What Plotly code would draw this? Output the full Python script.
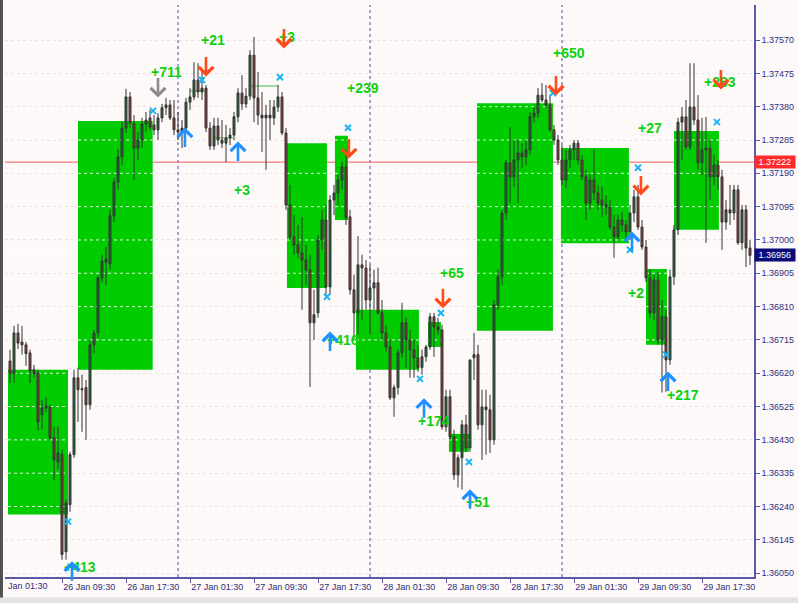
import plotly.graph_objects as go
import pandas as pd
import numpy as np

# ---------------- data (prices in points, 1 point = 0.00001) ----------------
open_pts = [136655,136619,136735,136709,136701,136678,136630,136621,136502,136521,136524,136436,136367,136388,136111,136245,136388,136607,136576,136579,
136530,136701,136735,136892,136946,136932,137069,137165,137237,137319,137408,137333,137262,137285,137331,137348,137328,137314,137348,137377,
137385,137348,137314,137308,137319,137393,137408,137456,137422,137433,137319,137268,137325,137285,137276,137291,137299,137351,137419,137388,
137410,137527,137405,137356,137348,137356,137348,137379,137408,137305,137100,137009,136986,136963,136943,136915,136764,136792,137000,137057,
136866,137114,137134,137171,137208,137066,136858,136792,136929,136920,136829,136863,136878,136792,136735,136695,136550,136579,136678,136764,
136715,136687,136664,136636,136667,136695,136781,136752,136744,136467,136553,136439,136330,136379,136473,136407,136664,136673,136473,136524,
136516,136430,136815,136895,137077,137220,137180,137228,137248,137237,137257,137351,137362,137413,137399,137385,137314,137285,137228,137171,
137228,137257,137276,137228,137180,137105,137171,137134,137114,137100,137094,137037,137009,137057,137043,137023,137077,137123,137037,136980,
136892,136792,136886,136715,136781,136658,136895,137029,137336,137351,137265,137379,137342,137220,137257,137262,137180,137214,137180,137051,
137086,137077,137143,136992,137086,136977]
high_pts = [136687,136755,136761,136755,136709,136687,136644,136630,136544,136550,136530,136467,136467,136402,136259,136396,136630,136636,136616,136601,
136715,136744,136897,136958,136980,137086,137177,137257,137337,137431,137422,137356,137308,137348,137365,137371,137356,137362,137388,137405,
137399,137399,137365,137342,137405,137433,137507,137504,137479,137442,137336,137348,137348,137342,137328,137319,137365,137433,137470,137433,
137541,137579,137479,137422,137385,137399,137399,137442,137422,137319,137157,137071,137043,137065,136986,136958,136858,137014,137086,137100,
137128,137157,137185,137222,137257,137086,136901,137011,136958,136943,136929,136915,136921,136829,136758,136715,136587,136687,136821,136778,
136744,136715,136701,136687,136701,136792,136792,136778,136758,136573,136573,136459,136388,136487,136501,136658,136735,136701,136573,136573,
136559,136829,136915,137086,137228,137322,137285,137285,137276,137285,137365,137379,137433,137447,137442,137413,137328,137299,137271,137257,
137271,137285,137285,137242,137200,137185,137257,137157,137151,137128,137114,137071,137071,137080,137057,137100,137143,137157,137057,137000,
136915,136901,136909,136829,136801,136915,137043,137348,137379,137399,137504,137504,137413,137348,137351,137285,137242,137228,137200,137114,
137157,137157,137157,137100,137100,137000]
low_pts = [136592,136592,136689,136673,136641,136592,136607,136456,136459,136510,136430,136316,136345,136088,136088,136225,136379,136481,136453,136430,
136516,136676,136721,136880,136872,136915,137051,137143,137214,137305,137319,137171,137228,137262,137308,137314,137299,137285,137336,137356,
137342,137299,137285,137262,137308,137371,137399,137405,137399,137308,137257,137257,137271,137262,137222,137271,137285,137336,137371,137377,
137399,137336,137328,137251,137200,137285,137328,137365,137299,137086,137000,136958,136949,136801,136872,136581,136715,136778,136972,136844,
136844,137071,137100,137143,137043,136844,136715,136730,136772,136801,136730,136801,136787,136715,136681,136544,136496,136559,136664,136636,
136607,136607,136624,136616,136653,136687,136667,136730,136459,136453,136430,136316,136294,136288,136396,136396,136601,136459,136373,136388,
136393,136416,136801,136872,137057,137105,137151,137105,137205,137214,137243,137336,137348,137393,137377,137308,137271,137214,137157,137148,
137205,137228,137214,137171,137057,137086,137114,137086,137065,137071,137029,136949,137003,137023,137000,137000,137051,137029,136972,136880,
136778,136772,136701,136565,136567,136644,136872,137014,137228,137257,137257,137328,137200,137185,136992,137114,137157,137143,136972,137029,
137043,137057,136986,136972,136923,136929]
close_pts = [136619,136735,136706,136701,136676,136627,136619,136481,136521,136527,136436,136373,136393,136103,136250,136388,136607,136573,136573,136530,
136701,136735,136892,136940,136937,137069,137165,137237,137319,137408,137333,137262,137285,137331,137342,137322,137314,137348,137377,137385,
137348,137314,137308,137319,137393,137408,137456,137422,137433,137319,137268,137325,137285,137276,137291,137299,137351,137419,137388,137410,
137527,137405,137356,137348,137356,137348,137379,137408,137305,137100,137009,136986,136963,136943,136915,136764,136787,137000,137057,136866,
137114,137134,137171,137208,137065,136858,136792,136929,136920,136829,136863,136878,136792,136735,136695,136550,136579,136678,136764,136715,
136687,136664,136636,136667,136695,136781,136752,136744,136467,136553,136439,136330,136379,136473,136407,136658,136673,136473,136524,136516,
136430,136815,136895,137077,137220,137180,137228,137248,137237,137257,137351,137362,137413,137399,137385,137314,137285,137228,137171,137228,
137257,137276,137228,137180,137105,137171,137134,137105,137100,137094,137037,137009,137057,137043,137023,137077,137123,137037,136980,136892,
136792,136886,136715,136781,136658,136895,137029,137336,137351,137265,137379,137342,137220,137257,137262,137180,137214,137180,137051,137086,
137077,137143,136992,137086,136977,136956]

first_bar = "2015-01-26 03:00"
bar_freq = "30min"

# zones (start, end, low, high)
zone_start = ["2015-01-26 02:45","2015-01-26 11:30","2015-01-27 13:37","2015-01-27 19:37","2015-01-27 22:15","2015-01-28 07:15",
              "2015-01-28 09:52","2015-01-28 13:22","2015-01-28 23:52","2015-01-29 10:30","2015-01-29 14:00"]
zone_end = ["2015-01-26 10:15","2015-01-26 20:50","2015-01-27 18:37","2015-01-27 21:15","2015-01-28 06:07","2015-01-28 08:52",
            "2015-01-28 12:22","2015-01-28 22:52","2015-01-29 08:22","2015-01-29 13:07","2015-01-29 19:37"]
zone_low = [1.36217,1.36630,1.36863,1.37057,1.36630,1.36695,1.36396,1.36741,1.36991,1.36701,1.37029]
zone_high = [1.36630,1.37339,1.37276,1.37297,1.36801,1.36766,1.36447,1.37390,1.37262,1.36917,1.37311]

# profit labels
lbl_text = ["+711","+21","+3","+3","+239","+416","+65","+174","+51","+650","+27","+283","+2","+217","+413"]
lbl_time = ["2015-01-26 22:30","2015-01-27 04:22","2015-01-27 08:00","2015-01-27 13:37","2015-01-27 23:07","2015-01-27 20:37",
            "2015-01-28 10:15","2015-01-28 08:00","2015-01-28 13:30","2015-01-29 00:52","2015-01-29 11:00","2015-01-29 19:45",
            "2015-01-29 09:15","2015-01-29 15:07","2015-01-26 11:45"]
lbl_price = [1.37478,1.37570,1.37143,1.37579,1.37434,1.36715,1.36906,1.36484,1.36253,1.37532,1.37320,1.37450,1.36849,1.36558,1.36068]

# sell arrows (centre of the glyph)
dn_time = ["2015-01-27 03:30","2015-01-27 13:15","2015-01-27 21:22","2015-01-28 09:07","2015-01-28 23:15","2015-01-29 09:52","2015-01-29 19:52"]
dn_price = [1.37496,1.37576,1.37262,1.36835,1.37442,1.37157,1.37459]
gray_time = ["2015-01-26 21:30"]
gray_price = [1.37436]
# buy arrows
up_time = ["2015-01-27 00:52","2015-01-27 07:30","2015-01-27 19:00","2015-01-28 06:45","2015-01-28 12:30","2015-01-26 10:45",
           "2015-01-29 08:45","2015-01-29 13:15"]
up_price = [1.37291,1.37251,1.36709,1.36519,1.36259,1.36054,1.36994,1.36595]
# close crosses
x_time = ["2015-01-26 20:52","2015-01-27 03:00","2015-01-27 12:45","2015-01-27 21:15","2015-01-27 18:37","2015-01-28 06:15",
          "2015-01-28 08:52","2015-01-28 12:22","2015-01-28 22:52","2015-01-29 09:30","2015-01-29 08:30","2015-01-29 13:00",
          "2015-01-29 19:22","2015-01-26 10:15"]
x_price = [1.37368,1.37456,1.37464,1.37320,1.36838,1.36604,1.36792,1.36367,1.37419,1.37206,1.36972,1.36673,1.37336,1.36197]

# small trade level lines
tl_start = ["2015-01-27 01:30","2015-01-27 04:22","2015-01-27 09:00"]
tl_end = ["2015-01-27 03:22","2015-01-27 06:52","2015-01-27 12:30"]
tl_price = [1.37425,1.37291,1.37439]

level_red = 1.37222
level_bid = 1.36956
day_seps = ["2015-01-27 00:00","2015-01-28 00:00","2015-01-29 00:00"]

y_tick0 = 1.36050
y_step = 0.00095
y_nticks = 17
x_tick_days = [26, 27, 28, 29]
x_tick_hours = ["01:30", "09:30", "17:30"]

# ---------------- figure ----------------
times = pd.date_range(first_bar, periods=len(close_pts), freq=bar_freq)
o = np.array(open_pts) / 1e5
h = np.array(high_pts) / 1e5
l = np.array(low_pts) / 1e5
c = np.array(close_pts) / 1e5

BG = "#fdf9f8"
AX = "#5a5aa8"
TXT = "#2e2e7c"
GREEN_ZONE = "#00cc00"

fig = go.Figure()
fig.add_trace(go.Candlestick(
    x=times, open=o, high=h, low=l, close=c,
    increasing=dict(fillcolor="#1f6a36", line=dict(color="#333333", width=1)),
    decreasing=dict(fillcolor="#8e3a32", line=dict(color="#333333", width=1)),
    whiskerwidth=0, showlegend=False, hoverinfo="skip"))

fig.add_trace(go.Scatter(
    x=x_time, y=x_price, mode="markers", showlegend=False, hoverinfo="skip",
    marker=dict(symbol="x-thin", size=6, line=dict(width=2, color="#19b4f5"), color="#19b4f5")))

yticks = [round(y_tick0 + k * y_step, 5) for k in range(y_nticks)]

shapes = []
for s, e, lo, hi in zip(zone_start, zone_end, zone_low, zone_high):
    shapes.append(dict(type="rect", xref="x", yref="y", x0=s, x1=e, y0=lo, y1=hi,
                       fillcolor=GREEN_ZONE, line=dict(width=0), layer="between"))
    for yt in yticks:
        if lo < yt < hi:
            shapes.append(dict(type="line", xref="x", yref="y", x0=s, x1=e, y0=yt, y1=yt,
                               line=dict(color="rgba(255,255,255,0.85)", width=1, dash="dot"), layer="between"))
shapes.append(dict(type="line", xref="paper", yref="y", x0=0, x1=1, y0=level_bid, y1=level_bid,
                   line=dict(color="rgba(255,255,255,0.9)", width=1), layer="between"))
for s, e, p in zip(tl_start, tl_end, tl_price):
    shapes.append(dict(type="line", xref="x", yref="y", x0=s, x1=e, y0=p, y1=p,
                       line=dict(color="#3cb84a", width=1), layer="between"))
for d in day_seps:
    shapes.append(dict(type="line", xref="x", yref="paper", x0=d, x1=d, y0=0, y1=1,
                       line=dict(color="#8585c8", width=1.5, dash="dot"), layer="between"))
shapes.append(dict(type="line", xref="paper", yref="y", x0=0, x1=1, y0=level_red, y1=level_red,
                   line=dict(color="#f05a5a", width=1), layer="between"))
# window chrome
shapes.append(dict(type="rect", xref="paper", yref="paper", x0=-0.0067, x1=-0.0027, y0=-0.06, y1=1.01,
                   fillcolor="#505050", line=dict(width=0), layer="above"))
shapes.append(dict(type="rect", xref="paper", yref="paper", x0=-0.01, x1=1.07, y0=-0.07, y1=-0.036,
                   fillcolor="#e2e2e2", line=dict(width=0), layer="above"))

ARROW_LEN = 21
ann = []


def arrow(t, p, color, up):
    # (t, p) is the centre of the arrow glyph; tip is half the length away
    return dict(x=t, y=p, xref="x", yref="y", text="", showarrow=True,
                ax=0, ay=(ARROW_LEN if up else -ARROW_LEN),
                yshift=(ARROW_LEN / 2 if up else -ARROW_LEN / 2),
                arrowhead=4, arrowsize=1.1, arrowwidth=2.6, arrowcolor=color, standoff=0, startstandoff=0)


for t, p, s in zip(lbl_time, lbl_price, lbl_text):
    ann.append(dict(x=t, y=p, xref="x", yref="y", text=s, showarrow=False,
                    font=dict(family="Liberation Sans", size=14, color="#10d010", weight="bold")))
for t, p in zip(dn_time, dn_price):
    ann.append(arrow(t, p, "#ff4a1a", False))
for t, p in zip(gray_time, gray_price):
    ann.append(arrow(t, p, "#8c8c8c", False))
for t, p in zip(up_time, up_price):
    ann.append(arrow(t, p, "#1e90ff", True))
# price labels on the axis
ann.append(dict(x=1.0, y=level_red, xref="paper", yref="y", xanchor="left", text=" 1.37222 ",
                showarrow=False, bgcolor="#ff2a2a", font=dict(family="Liberation Sans", size=9, color="white"),
                borderpad=1))
ann.append(dict(x=1.0, y=level_bid, xref="paper", yref="y", xanchor="left", text=" 1.36956 ",
                showarrow=False, bgcolor="#0a0a78", font=dict(family="Liberation Sans", size=9, color="white"),
                borderpad=1))
ann.append(dict(x=0.0015, y=0, xref="paper", yref="paper", xanchor="left", yanchor="top", yshift=-2,
                text="Jan 01:30", showarrow=False, font=dict(family="Liberation Sans", size=9, color=TXT)))

months = {26: "26 Jan", 27: "27 Jan", 28: "28 Jan", 29: "29 Jan"}
xtickvals, xticktext = [], []
for d in x_tick_days:
    for hh in x_tick_hours:
        xtickvals.append(f"2015-01-{d} {hh}")
        xticktext.append(f"{months[d]} {hh}")

fig.update_layout(
    width=798, height=603,
    margin=dict(l=5, r=44, t=5, b=26),
    paper_bgcolor=BG, plot_bgcolor=BG,
    shapes=shapes, annotations=ann,
    font=dict(family="Liberation Sans", size=9, color=TXT),
    xaxis=dict(range=["2015-01-26 02:22:30", "2015-01-30 00:00"], rangeslider=dict(visible=False),
               tickvals=xtickvals, ticktext=xticktext, ticklabelposition="outside right",
               ticks="outside", ticklen=4, tickcolor=AX, showgrid=False, zeroline=False,
               showline=True, linecolor=AX, linewidth=1.5, fixedrange=True),
    yaxis=dict(range=[1.36039, 1.37670], side="right", tickvals=yticks,
               ticktext=[f"{v:.5f}" for v in yticks], ticks="outside", ticklen=4, tickcolor=AX,
               showgrid=True, gridcolor="#ebe4e4", griddash="dot", gridwidth=1, zeroline=False,
               showline=True, linecolor=AX, linewidth=1.5, fixedrange=True, automargin=False),
)

fig.write_html("out.html", config={"displayModeBar": False},
               post_script="document.body.style.margin='0';document.body.style.background='%s';" % BG)
